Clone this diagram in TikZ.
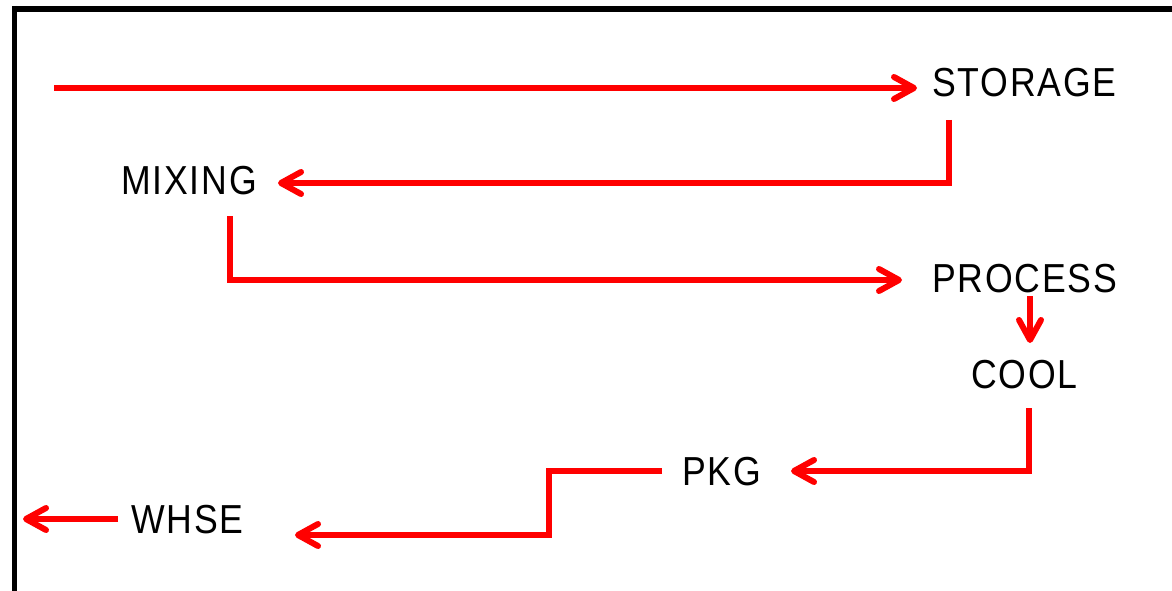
\documentclass[tikz,border=0pt]{standalone}
\usepackage{fontspec}
\newfontfamily\lblfont[FakeStretch=0.88,LetterSpace=4.5]{Liberation Sans}
\usetikzlibrary{arrows.meta}
\tikzset{
  lbl/.style={font=\lblfont\fontsize{40.5}{40.5}\selectfont, inner sep=0pt, outer sep=0pt, anchor=base west, text=black},
  flow/.style={draw=red, line width=6pt, line join=miter,
    -{Straight Barb[length=20pt,width=22pt,line cap=round,line join=round]}},
  frame/.style={draw=black}
}
\begin{document}
\begin{tikzpicture}[x=1pt,y=-1pt]
\useasboundingbox (0,0) rectangle (1172,591);
% frame
\draw[frame, line width=6pt] (12,9) -- (1172,9);
\draw[frame, line width=5pt] (14.5,6) -- (14.5,591);
% labels
\node[lbl] (storage) at (932,97) {STORAGE};
\node[lbl] (mixing) at (121,194) {MIXING};
\node[lbl] (process) at (932,292) {PROCESS};
\node[lbl] (cool) at (971,388) {COOL};
\node[lbl] (pkg) at (682,485) {PKG};
\node[lbl] (whse) at (131,533) {WHSE};
% connector endpoints
\coordinate (in) at (54,88);
\coordinate (storage-in) at (917,88);
\coordinate (storage-out) at (949,120);
\coordinate (mixing-in) at (278,183);
\coordinate (mixing-out) at (230,216);
\coordinate (process-in) at (902,280);
\coordinate (process-out) at (1030,296);
\coordinate (cool-in) at (1030,343);
\coordinate (cool-out) at (1029,408);
\coordinate (pkg-in) at (791,471);
\coordinate (pkg-out) at (662,471);
\coordinate (stepcorner) at (549,535);
\coordinate (whse-in) at (295,535);
\coordinate (whse-out) at (118,519);
\coordinate (out) at (23,519);
% connectors
\draw[flow] (in) -- (storage-in);
\draw[flow] (storage-out) |- (mixing-in);
\draw[flow] (mixing-out) |- (process-in);
\draw[flow] (process-out) -- (cool-in);
\draw[flow] (cool-out) |- (pkg-in);
\draw[flow] (pkg-out) -| (stepcorner) -- (whse-in);
\draw[flow] (whse-out) -- (out);
\end{tikzpicture}
\end{document}
